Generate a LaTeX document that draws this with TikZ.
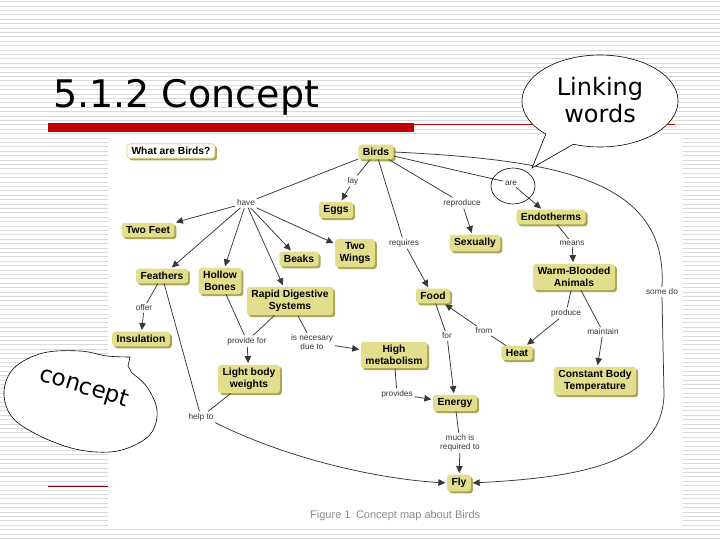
\documentclass[tikz,border=0pt]{standalone}
\usepackage{fontspec}
\setmainfont{Liberation Sans}
\newfontfamily\titlefont{DejaVu Sans}
\usetikzlibrary{arrows.meta,shadows}
\definecolor{boxfill}{RGB}{226,222,142}
\definecolor{boxshadow}{RGB}{172,166,82}
\definecolor{boxedge}{RGB}{210,205,120}
\definecolor{linkc}{RGB}{55,55,55}
\definecolor{slidered}{RGB}{192,0,0}
\definecolor{stripe}{RGB}{218,218,218}
\definecolor{captionc}{RGB}{140,140,140}
\tikzset{
  concept/.style={rounded corners=3pt, fill=boxfill, inner xsep=4.5pt, inner ysep=3.5pt,
    align=center, font=\fontsize{10.3}{11.8}\selectfont\bfseries,
    general shadow={fill=boxshadow, shadow xshift=2pt, shadow yshift=-2pt}},
  whatbox/.style={concept, fill=white, draw=boxedge, line width=0.6pt},
  linkw/.style={font=\fontsize{8.3}{9}\selectfont, text=linkc, inner sep=1.6pt, align=center},
  ln/.style={draw=linkc, line width=0.75pt},
  arr/.style={ln, -{Triangle[length=7pt,width=6.5pt]}, shorten >=1.5pt},
  bubble/.style={draw=black, fill=white, line width=0.6pt}
}
\begin{document}
\begin{tikzpicture}[x=1pt,y=-1pt]
\useasboundingbox (0,0) rectangle (720,540);
\fill[white] (0,0) rectangle (720,540);
% slide stripes
\foreach \i in {0,...,122} \draw[stripe, line width=0.7pt] (0,{\i*4.4+1.5}) -- (720,{\i*4.4+1.5});
% title
\node[anchor=base west, font=\titlefont\fontsize{38}{40}\selectfont, inner sep=0] (title) at (53,108) {5.1.2 Concept};
\fill[slidered] (48,123) rectangle (414,132);
\draw[slidered, line width=0.8pt] (414,124) -- (675,124);
\draw[slidered!70!black, line width=0.8pt] (48,486) -- (108,486);
% figure area
\fill[white] (108,135) rectangle (683,527);
\node[anchor=base west, font=\fontsize{11}{12}\selectfont, text=captionc, inner sep=0] (caption) at (310,518) {Figure 1\enspace Concept map about Birds};

% concepts
\node[whatbox] (what) at (171,151) {What are Birds?};
\node[concept] (birds) at (376,152) {Birds};
\node[concept] (eggs) at (336,210) {Eggs};
\node[concept] (twofeet) at (148,230) {Two Feet};
\node[concept] (beaks) at (299,259) {Beaks};
\node[concept] (twowings) at (355,253) {Two\\Wings};
\node[concept] (feathers) at (162,276) {Feathers};
\node[concept] (hollow) at (220,281) {Hollow\\Bones};
\node[concept] (rapid) at (290,301) {Rapid Digestive\\Systems};
\node[concept] (insulation) at (141,339) {Insulation};
\node[concept] (light) at (249,379) {Light body\\weights};
\node[concept] (high) at (394,355) {High\\metabolism};
\node[concept] (energy) at (455,403) {Energy};
\node[concept] (fly) at (459,483) {Fly};
\node[concept] (food) at (433,296) {Food};
\node[concept] (heat) at (517,353) {Heat};
\node[concept] (warm) at (574,277) {Warm-Blooded\\Animals};
\node[concept] (constant) at (595,381) {Constant Body\\Temperature};
\node[concept] (endo) at (551,217) {Endotherms};
\node[concept] (sex) at (475,243) {Sexually};

% linking words
\node[linkw] (lay) at (353,181) {lay};
\node[linkw] (have) at (246,203) {have};
\node[linkw] (reproduce) at (462,203) {reproduce};
\node[linkw] (are) at (511,183) {are};
\node[linkw] (requires) at (404,243) {requires};
\node[linkw] (means) at (572,243) {means};
\node[linkw] (offer) at (144,308) {offer};
\node[linkw] (providefor) at (247,341) {provide for};
\node[linkw] (isnec) at (312,342) {is necesary\\due to};
\node[linkw] (produce) at (566,313) {produce};
\node[linkw] (maintain) at (603,332) {maintain};
\node[linkw] (from) at (484,331) {from};
\node[linkw] (for) at (447,336) {for};
\node[linkw] (somedo) at (662,292) {some do};
\node[linkw] (provides) at (397,394) {provides};
\node[linkw] (muchis) at (460,443) {much is\\required to};
\node[linkw] (helpto) at (201,417) {help to};

% connectors
\draw[ln] (birds) -- (lay);   \draw[arr] (lay) -- (eggs);
\draw[ln] (birds) -- (have);
\draw[arr] (have) -- (twofeet);
\draw[arr] (have) -- (feathers);
\draw[arr] (have) -- (hollow);
\draw[arr] (have) -- (rapid);
\draw[arr] (have) -- (beaks);
\draw[arr] (have) -- (twowings);
\draw[ln] (birds) -- (reproduce); \draw[arr] (reproduce) -- (sex);
\draw[ln] (birds) -- (are);   \draw[arr] (are) -- (endo);
\draw[ln] (birds) -- (requires); \draw[arr] (requires) -- (food);
\draw[ln] (endo) -- (means);  \draw[arr] (means) -- (warm);
\draw[ln] (warm) -- (produce); \draw[arr] (produce) -- (heat);
\draw[ln] (warm) -- (maintain); \draw[arr] (maintain) -- (constant);
\draw[ln] (heat) -- (from);   \draw[arr] (from) -- (food);
\draw[ln] (food) -- (for);    \draw[arr] (for) -- (energy);
\draw[ln] (feathers) -- (offer); \draw[arr] (offer) -- (insulation);
\draw[ln] (feathers) -- (helpto);
\draw[ln] (light) -- (helpto);
\draw[arr] (helpto.south east) .. controls (290,460) and (380,479) .. (fly.west);
\draw[ln] (hollow) -- (providefor);
\draw[ln] (rapid) -- (providefor);
\draw[arr] (providefor) -- (light);
\draw[ln] (rapid) -- (isnec); \draw[arr] (isnec) -- (high);
\draw[ln] (high) -- (provides); \draw[arr] (provides) -- (energy);
\draw[ln] (energy) -- (muchis); \draw[arr] (muchis) -- (fly);
\draw[ln] (birds.east) .. controls (560,160) and (668,180) .. (somedo.north);
\draw[arr] (somedo.south) -- (664,395) .. controls (662,460) and (590,477) .. (fly.east);

% circle round "are"
\draw[line width=0.6pt] (513,186) ellipse [x radius=22pt, y radius=18pt];

% callouts
\draw[bubble] plot[domain=134:470, samples=90, variable=\t] ({600+78*cos(\t)}, {101+46*sin(\t)}) -- (532,168) -- cycle;
\node[font=\titlefont\fontsize{24}{27}\selectfont, align=center] (linktxt) at (600,100) {Linking\\words};
\draw[bubble] plot[smooth, tension=0.6] coordinates {(132,373) (147,387) (157,410) (152,432) (135,445) (110,452) (75,449) (38,435) (12,417) (4,392) (14,368) (43,353) (80,351) (107,356) (130,357)} -- (128,366) -- cycle;
\node[rotate=-17, font=\titlefont\fontsize{23}{23}\selectfont] (concepttxt) at (84,388) {concept};
\end{tikzpicture}
\end{document}
